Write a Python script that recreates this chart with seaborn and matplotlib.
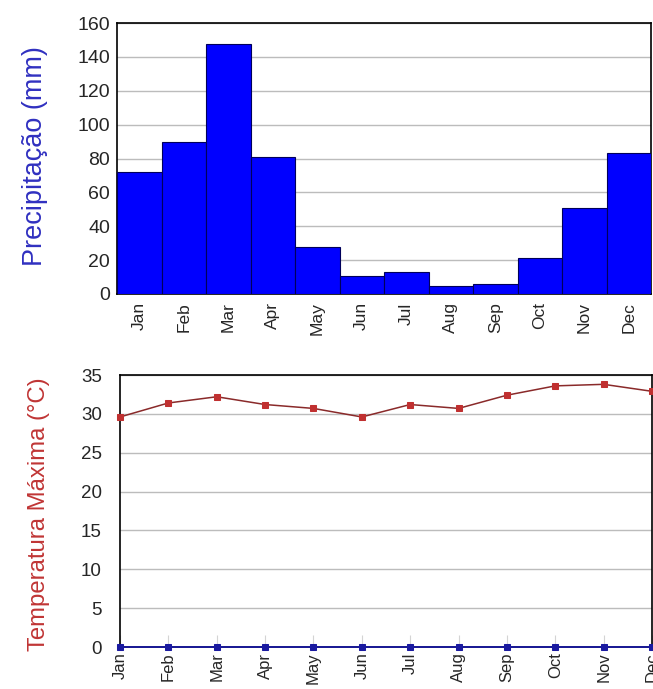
import numpy as np
import pandas as pd
import seaborn as sns
import matplotlib.pyplot as plt

# climate data
months = ["Jan", "Feb", "Mar", "Apr", "May", "Jun", "Jul", "Aug", "Sep", "Oct", "Nov", "Dec"]
precip = [72, 90, 147.5, 81, 28, 10.5, 13, 5, 6, 21, 50.5, 83.5]
temp_max = [29.6, 31.4, 32.2, 31.2, 30.7, 29.6, 31.2, 30.7, 32.4, 33.6, 33.8, 32.9]
baseline = [0] * 12
precip_ticks = [0, 20, 40, 60, 80, 100, 120, 140, 160]
temp_ticks = [0, 5, 10, 15, 20, 25, 30, 35]

sns.set_style("white")
plt.rcParams["font.family"] = ["Liberation Sans", "DejaVu Sans"]

df = pd.DataFrame({"month": months, "precip": precip, "temp": temp_max, "base": baseline})
df["idx"] = np.arange(len(months))

fig = plt.figure(figsize=(6.53, 6.89), dpi=100)

# precipitation bars
ax1 = fig.add_axes([117 / 653, 395 / 689, 534 / 653, 271 / 689])
sns.barplot(data=df, x="month", y="precip", color="#0000ff", saturation=1,
            width=1.0, edgecolor="#00005a", linewidth=0.8, ax=ax1, zorder=3)
ax1.set_xlim(-0.5, 11.5)
ax1.set_ylim(0, 160)
ax1.set_yticks(precip_ticks)
ax1.yaxis.grid(True, color="#bcbcbc", linewidth=1, zorder=0)
ax1.set_xlabel("")
ax1.set_ylabel("Precipitação (mm)", fontsize=19.5, color="#3030c0")
ax1.yaxis.set_label_coords(-0.13, 0.51)
ax1.tick_params(axis="x", rotation=90, labelsize=12.5, length=0, pad=6)
ax1.tick_params(axis="y", labelsize=14, length=0, pad=5)
for s in ax1.spines.values():
    s.set_color("black")
    s.set_linewidth(1.2)

# maximum temperature line
ax2 = fig.add_axes([120 / 653, 42 / 689, 532 / 653, 272 / 689])
sns.lineplot(data=df, x="idx", y="base", color="#1a1aa0", marker="s", markersize=4,
             markeredgecolor="#1a1aa0", linewidth=1.3, ax=ax2, zorder=4, clip_on=False)
sns.lineplot(data=df, x="idx", y="temp", color="#8a2a2a", marker="s", markersize=4,
             markerfacecolor="#c03030", markeredgecolor="#c03030", linewidth=1.1,
             ax=ax2, zorder=4, clip_on=False)
ax2.set_xlim(0, 11)
ax2.set_ylim(0, 35)
ax2.set_yticks(temp_ticks)
ax2.set_xticks(df["idx"])
ax2.set_xticklabels(months)
ax2.yaxis.grid(True, color="#bcbcbc", linewidth=1, zorder=0)
ax2.set_xlabel("")
ax2.set_ylabel("Temperatura Máxima (°C)", fontsize=17.2, color="#c03535")
ax2.yaxis.set_label_coords(-0.132, 0.488)
ax2.tick_params(axis="x", rotation=90, labelsize=12, direction="in", length=9,
                width=0.8, color="#d4d4d4", pad=4, bottom=True)
ax2.tick_params(axis="y", labelsize=13.5, length=0, pad=13)
for s in ax2.spines.values():
    s.set_color("black")
    s.set_linewidth(1.2)

fig.savefig("out.png", dpi=100)
